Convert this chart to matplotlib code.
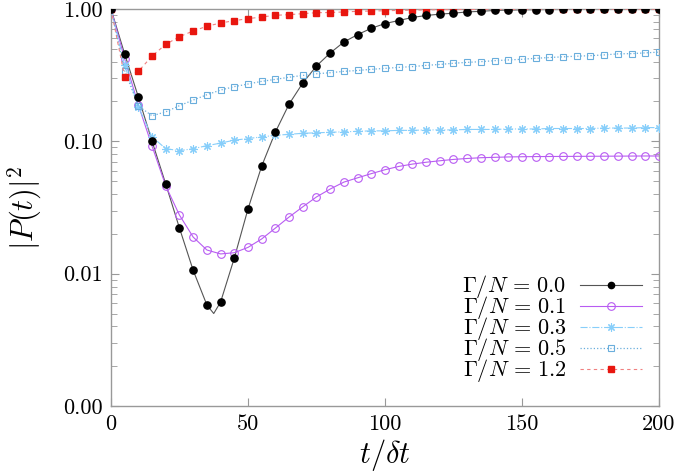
import matplotlib
matplotlib.use("Agg")
import matplotlib.pyplot as plt
import numpy as np

plt.rcParams['mathtext.fontset'] = 'cm'
plt.rcParams['font.family'] = 'serif'
plt.rcParams['font.serif'] = ['cmr10', 'DejaVu Serif']
plt.rcParams['axes.formatter.use_mathtext'] = True

# time samples (markers every 5 steps)
t = np.arange(0, 205, 5)

# Gamma/N = 0.0
p00 = [1.0, 0.457, 0.216, 0.100, 0.0475, 0.0221, 0.0106, 0.0058, 0.0061, 0.0131,
       0.0308, 0.065, 0.1175, 0.191, 0.276, 0.371, 0.465, 0.563, 0.64, 0.715,
       0.776, 0.818, 0.863, 0.893, 0.914, 0.93, 0.95, 0.96, 0.975, 0.98,
       0.985, 0.988, 0.99, 0.992, 0.993, 0.994, 0.995, 0.996, 0.997, 0.998, 0.998]
# black line is finer than the markers (dip near t=37.5)
t00_line = [0, 5, 10, 15, 20, 25, 30, 35, 37.5, 40, 45, 50, 55, 60, 65, 70, 75, 80,
            85, 90, 95, 100, 105, 110, 115, 120, 125, 130, 135, 140, 150, 160, 170,
            180, 190, 200]
p00_line = [1.0, 0.457, 0.216, 0.100, 0.0475, 0.0221, 0.0106, 0.0058, 0.0050, 0.0061,
            0.0131, 0.0308, 0.065, 0.1175, 0.191, 0.276, 0.371, 0.465, 0.563, 0.64,
            0.715, 0.776, 0.818, 0.863, 0.893, 0.914, 0.93, 0.95, 0.96, 0.975, 0.985,
            0.99, 0.993, 0.995, 0.997, 0.998]

# Gamma/N = 0.1
p01 = [1.0, 0.42, 0.188, 0.092, 0.046, 0.0277, 0.0189, 0.0151, 0.0141, 0.0144,
       0.0158, 0.0183, 0.0221, 0.0268, 0.032, 0.038, 0.0436, 0.0492, 0.053, 0.057,
       0.061, 0.0646, 0.0673, 0.0695, 0.0713, 0.073, 0.0742, 0.0752, 0.0757, 0.0762,
       0.0765, 0.0767, 0.0768, 0.0769, 0.077, 0.0771, 0.0772, 0.0773, 0.0774, 0.0775, 0.0775]

# Gamma/N = 0.3
p03 = [1.0, 0.377, 0.182, 0.108, 0.088, 0.085, 0.088, 0.0927, 0.097, 0.102,
       0.105, 0.108, 0.111, 0.113, 0.115, 0.116, 0.117, 0.118, 0.119, 0.120,
       0.120, 0.121, 0.121, 0.122, 0.122, 0.122, 0.123, 0.123, 0.123, 0.124,
       0.124, 0.124, 0.125, 0.125, 0.125, 0.125, 0.126, 0.126, 0.126, 0.127, 0.127]

# Gamma/N = 0.5
p05 = [1.0, 0.342, 0.185, 0.156, 0.167, 0.186, 0.205, 0.225, 0.244, 0.259,
       0.271, 0.284, 0.294, 0.305, 0.315, 0.324, 0.330, 0.338, 0.343, 0.350,
       0.356, 0.362, 0.367, 0.375, 0.381, 0.389, 0.395, 0.400, 0.407, 0.412,
       0.417, 0.424, 0.430, 0.435, 0.440, 0.444, 0.450, 0.458, 0.460, 0.466, 0.472]

# Gamma/N = 1.2
p12 = [1.0, 0.308, 0.338, 0.441, 0.541, 0.618, 0.682, 0.74, 0.784, 0.816,
       0.845, 0.87, 0.896, 0.906, 0.922, 0.938, 0.94, 0.95, 0.96, 0.965,
       0.97, 0.975, 0.98, 0.985, 0.988, 0.99, 0.992, 0.993, 0.994, 0.995,
       0.995, 0.996, 0.996, 0.997, 0.997, 0.997, 0.998, 0.998, 0.998, 0.998, 0.998]

labels = [r'$\Gamma/N \,=\, 0.0$', r'$\Gamma/N \,=\, 0.1$', r'$\Gamma/N \,=\, 0.3$',
          r'$\Gamma/N \,=\, 0.5$', r'$\Gamma/N \,=\, 1.2$']
yticks = [1.0, 0.1, 0.01, 0.001]
yticklabels = ['1.00', '0.10', '0.01', '0.00']
xticks = [0, 50, 100, 150, 200]

fig = plt.figure(figsize=(6.75, 4.73), dpi=100)
ax = fig.add_axes([0.1644, 0.1416, 0.8119, 0.8394])

c_blk = '#000000'
c_pur = '#b85cf2'
c_ast = '#87cefa'
c_sq = '#6aaedc'
c_red = '#e8160f'

# Gamma 0.0: line and markers drawn separately
ax.plot(t00_line, p00_line, color='#555555', lw=0.8, zorder=2)
ax.plot(t, p00, ls='none', marker='o', ms=5.2, color=c_blk, zorder=6)
h0, = ax.plot([], [], color='#555555', lw=0.8, marker='o', ms=4.5, mfc=c_blk, mec=c_blk)

h1, = ax.plot(t, p01, color=c_pur, lw=0.8, marker='o', ms=5.5, mfc='none',
              mec=c_pur, mew=0.8, zorder=3)
h2, = ax.plot(t, p03, color=c_ast, lw=0.8, ls='-.', marker=(8, 2, 0), ms=6,
              mec=c_ast, mew=0.8, zorder=3)
h3, = ax.plot(t, p05, color=c_sq, lw=0.9, ls=':', marker='s', ms=5, mfc='none',
              mec=c_sq, mew=0.8, zorder=4)
h4, = ax.plot(t, p12, color='#f08080', lw=0.8, ls=(0, (3, 3)), marker='s', ms=5,
              mfc=c_red, mec=c_red, zorder=5)

ax.set_yscale('log')
ax.set_xlim(0, 200)
ax.set_ylim(0.001, 1.0)
ax.set_yticks(yticks)
ax.set_yticklabels(yticklabels)
ax.set_xticks(xticks)
ax.set_xticklabels([str(v) for v in xticks])

for s in ax.spines.values():
    s.set_color('#999999')
    s.set_linewidth(1.0)
ax.tick_params(which='both', direction='in', top=True, right=True, color='#999999',
               labelsize=16, pad=6)
ax.tick_params(which='major', length=6)
ax.tick_params(which='minor', length=4)

ax.set_xlabel(r'$t/\delta t$', fontsize=22, labelpad=2)
ax.set_ylabel(r'$|P(t)|^2$', fontsize=22, labelpad=14)

ax.legend([h0, h1, h2, h3, h4], labels, loc='lower right', frameon=False,
          fontsize=16, markerfirst=False, handlelength=2.8, labelspacing=-0.27,
          handletextpad=0.6, bbox_to_anchor=(0.985, 0.032), borderaxespad=0)

fig.savefig('out.png', dpi=100)
